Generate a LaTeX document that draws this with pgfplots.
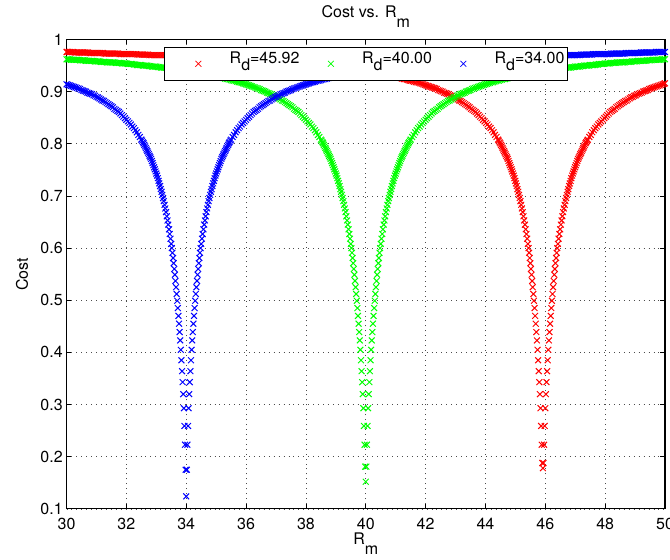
\documentclass[border=0pt]{standalone}
\usepackage{fontspec}
\setmainfont{TeX Gyre Heros}
\usepackage{pgfplots}
\pgfplotsset{compat=1.18}
\pgfplotsset{mk/.style={only marks, mark=x, mark size=3.1pt, mark options={line width=0.75pt}}}
\begin{document}
\fontsize{12pt}{14pt}\selectfont
\begin{tikzpicture}
\useasboundingbox (-49.9pt,-38.25pt) rectangle (452.65pt,381.7pt);
\begin{axis}[
  at={(0pt,0pt)}, anchor=south west,
  scale only axis, width=448.9pt, height=352.1pt,
  xmin=30, xmax=50, ymin=0.1, ymax=1,
  xtick={30,32,34,36,38,40,42,44,46,48,50},
  xticklabels={30,32,34,36,38,40,42,44,46,48,50},
  ytick={0.1,0.2,0.3,0.4,0.5,0.6,0.7,0.8,0.9,1},
  yticklabels={0.1,0.2,0.3,0.4,0.5,0.6,0.7,0.8,0.9,1},
  xtick pos=both, ytick pos=both,
  xticklabel pos=lower, yticklabel pos=left,
  tick align=inside, major tick length=3.5pt,
  tick style={black, line width=0.6pt},
  xticklabel style={yshift=-2.8pt},
  yticklabel style={xshift=1.3pt},
  grid=major,
  major grid style={black!70, line width=0.5pt, dash pattern=on 0.7pt off 3pt},
  axis line style={black, line width=0.8pt},
  clip=false,
  every axis title/.style={at={(axis description cs:0.5,1.0469)}, anchor=base},
  every axis x label/.style={at={(axis description cs:0.5,-0.0767)}, anchor=base},
  every axis y label/.style={at={(axis description cs:-0.0644,0.5)}, rotate=90, anchor=base},
  title={Cost vs. R\raisebox{-0.6em}{m}},
  xlabel={R\raisebox{-0.6em}{m}},
  ylabel={Cost},
  legend columns=3,
  legend image code/.code={\path (-23.25pt,0pt) (23.25pt,0pt); \draw[#1,only marks,mark options={line width=0.55pt}] plot coordinates {(0pt,0pt)};},
  legend style={at={(0.5,0.984)}, anchor=north, draw=black, line width=0.5pt, fill=white,
    inner xsep=2.25pt, inner ysep=0pt, column sep=0pt,
    nodes={inner sep=0pt, text height=12pt, text depth=12.75pt}},
]
% ---------------- R_d = 45.92 (red) ----------------
\addplot[mk, color=red] coordinates {
(30.00,.976)(30.02,.976)(30.12,.976)(30.22,.976)(30.32,.975)(30.42,.975)(30.52,.975)(30.62,.975)(30.72,.975)(30.82,.974)
(30.92,.974)(31.02,.974)(31.12,.974)(31.22,.974)(31.32,.973)(31.42,.973)(31.52,.973)(31.62,.973)(31.72,.973)(31.82,.972)
(31.92,.972)(32.02,.972)(32.12,.972)(32.22,.972)(32.32,.972)(32.42,.971)(32.52,.971)(32.62,.971)(32.72,.971)(32.82,.970)
(32.92,.970)(33.02,.970)(33.12,.970)(33.22,.970)(33.32,.970)(33.42,.969)(33.52,.969)(33.62,.969)(33.72,.969)(33.82,.968)
(33.92,.968)(34.02,.968)(34.12,.968)(34.22,.967)(34.32,.967)(34.42,.967)(34.52,.967)(34.62,.966)(34.72,.966)(34.82,.966)
(34.92,.965)(35.02,.965)(35.12,.965)(35.22,.964)(35.32,.964)(35.42,.964)(35.52,.963)(35.62,.963)(35.72,.963)(35.82,.962)
(35.92,.962)(36.02,.962)(36.12,.961)(36.22,.961)(36.32,.961)(36.42,.960)(36.52,.960)(36.62,.959)(36.72,.959)(36.82,.959)
(36.92,.958)(37.02,.958)(37.12,.957)(37.22,.957)(37.32,.956)(37.42,.956)(37.52,.956)(37.62,.955)(37.72,.955)(37.82,.954)
(37.92,.954)(38.02,.953)(38.12,.953)(38.22,.952)(38.32,.951)(38.42,.951)(38.52,.950)(38.62,.950)(38.72,.949)(38.82,.948)
(38.92,.948)(39.02,.947)(39.12,.946)(39.22,.946)(39.32,.945)(39.42,.944)(39.52,.943)(39.62,.942)(39.72,.942)(39.82,.941)
(39.92,.940)(40.02,.939)(40.12,.938)(40.22,.937)(40.32,.936)(40.42,.935)(40.52,.934)(40.62,.933)(40.72,.932)(40.82,.931)
(40.92,.929)(41.02,.928)(41.12,.927)(41.22,.925)(41.32,.924)(41.42,.922)(41.52,.921)(41.62,.919)(41.72,.918)(41.82,.916)
(41.92,.914)(42.02,.912)(42.12,.910)(42.22,.908)(42.32,.906)(42.42,.903)(42.52,.901)(42.62,.898)(42.72,.896)(42.82,.893)
(42.92,.890)(43.02,.887)(43.12,.883)(43.22,.880)(43.32,.876)(43.42,.872)(43.52,.867)(43.62,.863)(43.72,.858)(43.82,.852)
(43.92,.846)(44.02,.840)(44.12,.833)(44.22,.826)(44.32,.817)
(44.42,.808)(44.47,.803)(44.52,.798)(44.57,.792)(44.62,.786)(44.67,.780)(44.72,.774)(44.77,.767)(44.82,.759)(44.87,.751)
(44.92,.743)(44.97,.734)(45.02,.724)(45.07,.713)(45.12,.702)(45.17,.690)(45.22,.676)(45.27,.661)(45.32,.645)(45.37,.627)
(45.42,.608)(45.44,.600)(45.46,.591)(45.48,.581)(45.50,.571)(45.52,.560)(45.54,.549)(45.56,.537)(45.58,.525)(45.60,.512)
(45.62,.499)(45.64,.485)(45.66,.470)(45.68,.455)(45.70,.439)(45.72,.423)(45.74,.405)(45.76,.385)(45.78,.364)(45.80,.343)
(45.82,.320)(45.84,.293)(45.86,.259)(45.88,.223)(45.90,.188)(45.92,.178)
(45.94,.188)(45.96,.223)(45.98,.259)(46.00,.293)(46.02,.320)(46.04,.343)(46.06,.364)(46.08,.385)(46.10,.405)(46.12,.423)
(46.14,.439)(46.16,.455)(46.18,.470)(46.20,.485)(46.22,.499)(46.24,.512)(46.26,.525)(46.28,.537)(46.30,.549)(46.32,.560)
(46.34,.571)(46.36,.581)(46.38,.591)(46.40,.600)(46.42,.608)
(46.47,.627)(46.52,.645)(46.57,.661)(46.62,.676)(46.67,.690)(46.72,.702)(46.77,.713)(46.82,.724)(46.87,.734)(46.92,.743)
(46.97,.751)(47.02,.759)(47.07,.767)(47.12,.774)(47.17,.780)(47.22,.786)(47.27,.792)(47.32,.798)(47.37,.803)(47.42,.808)
(47.52,.817)(47.62,.826)(47.72,.833)(47.82,.840)(47.92,.846)(48.02,.852)(48.12,.858)(48.22,.863)(48.32,.867)(48.42,.872)
(48.52,.876)(48.62,.880)(48.72,.883)(48.82,.887)(48.92,.890)(49.02,.893)(49.12,.896)(49.22,.898)(49.32,.901)(49.42,.903)
(49.52,.906)(49.62,.908)(49.72,.910)(49.82,.912)(49.92,.914)(50.00,.916)
};
\addlegendentry{R\raisebox{-0.46em}{d}=45.92}
\addplot[mk, color=red, forget plot] coordinates {
(30.07,.976)(30.17,.976)(30.27,.975)(30.37,.975)(30.47,.975)(30.57,.975)(30.67,.975)(30.77,.974)(30.87,.974)(30.97,.974)
(31.07,.974)(31.17,.974)(31.27,.973)(31.37,.973)(31.47,.973)(31.57,.973)(31.67,.973)(31.77,.972)(31.87,.972)(31.97,.972)
(32.07,.972)(32.17,.972)(32.27,.972)(32.37,.971)(32.47,.971)(32.57,.971)(32.67,.971)(32.77,.970)(32.87,.970)(32.97,.970)
(33.07,.970)(33.17,.970)(33.27,.970)(33.37,.969)(33.47,.969)(33.57,.969)(33.67,.969)(33.77,.968)(33.87,.968)(33.97,.968)
(34.07,.968)(34.17,.967)(34.27,.967)(34.37,.967)(34.47,.967)(34.57,.966)(34.67,.966)(34.77,.966)(34.87,.965)(34.97,.965)
(35.07,.965)(35.17,.964)(35.27,.964)(35.37,.964)(35.47,.963)(35.57,.963)(35.67,.963)(35.77,.962)(35.87,.962)(35.97,.962)
(36.07,.961)(36.17,.961)(36.27,.961)(36.37,.960)(36.47,.960)(36.57,.959)(36.67,.959)(36.77,.959)(36.87,.958)(36.97,.958)
(37.07,.957)(37.17,.957)(37.27,.956)(37.37,.956)(37.47,.956)(37.57,.955)(37.67,.955)(37.77,.954)(37.87,.954)(37.97,.953)
(38.07,.953)(38.17,.952)(38.27,.951)(38.37,.951)(38.47,.950)(38.57,.950)(38.67,.949)(38.77,.948)(38.87,.948)(38.97,.947)
(39.07,.946)(39.17,.946)(39.27,.945)(39.37,.944)(39.47,.943)(39.57,.942)(39.67,.942)(39.77,.941)(39.87,.940)(39.97,.939)
(40.07,.938)(40.17,.937)(40.27,.936)(40.37,.935)(40.47,.934)(40.57,.933)(40.67,.932)(40.77,.931)(40.87,.930)(40.97,.929)
(41.07,.927)(41.17,.926)(41.27,.924)(41.37,.923)(41.47,.921)(41.57,.920)(41.67,.918)(41.77,.917)(41.87,.915)(41.97,.913)
(42.07,.911)(42.17,.909)(42.27,.907)(42.37,.905)(42.47,.902)(42.57,.900)(42.67,.897)(42.77,.895)(42.87,.892)(42.97,.889)
(43.07,.885)(43.17,.882)(43.27,.878)(43.37,.874)(43.47,.870)(43.57,.865)(43.67,.861)(43.77,.855)(43.87,.849)(43.97,.843)
(44.07,.837)(44.17,.830)(44.27,.822)(44.37,.813)
(44.445,.806)(44.495,.801)(44.545,.795)(44.595,.789)(44.645,.783)(44.695,.777)(44.745,.771)(44.795,.763)(44.845,.755)(44.895,.747)
(44.945,.739)(44.995,.729)(45.045,.719)(45.095,.708)(45.145,.696)(45.195,.683)(45.245,.669)(45.295,.653)(45.345,.636)(45.395,.618)
(46.445,.618)(46.495,.636)(46.545,.653)(46.595,.669)(46.645,.683)(46.695,.696)(46.745,.708)(46.795,.719)(46.845,.729)(46.895,.739)
(46.945,.747)(46.995,.755)(47.045,.763)(47.095,.771)(47.145,.777)(47.195,.783)(47.245,.789)(47.295,.795)(47.345,.801)(47.395,.806)
(47.47,.813)(47.57,.822)(47.67,.830)(47.77,.837)(47.87,.843)(47.97,.849)(48.07,.855)(48.17,.861)(48.27,.865)(48.37,.870)
(48.47,.874)(48.57,.878)(48.67,.882)(48.77,.885)(48.87,.889)(48.97,.892)(49.07,.895)(49.17,.897)(49.27,.900)(49.37,.902)
(49.47,.905)(49.57,.907)(49.67,.909)(49.77,.911)(49.87,.913)(49.97,.915)
};
% ---------------- R_d = 40.00 (green) ----------------
\addplot[mk, color=green] coordinates {
(30.0,.962)(30.1,.962)(30.2,.961)(30.3,.961)(30.4,.961)(30.5,.960)(30.6,.960)(30.7,.959)(30.8,.959)(30.9,.959)
(31.0,.958)(31.1,.958)(31.2,.957)(31.3,.957)(31.4,.956)(31.5,.956)(31.6,.956)(31.7,.955)(31.8,.955)(31.9,.954)
(32.0,.954)(32.1,.953)(32.2,.953)(32.3,.952)(32.4,.951)(32.5,.951)(32.6,.950)(32.7,.950)(32.8,.949)(32.9,.948)
(33.0,.948)(33.1,.947)(33.2,.946)(33.3,.946)(33.4,.945)(33.5,.944)(33.6,.943)(33.7,.942)(33.8,.942)(33.9,.941)
(34.0,.940)(34.1,.939)(34.2,.938)(34.3,.937)(34.4,.936)(34.5,.935)(34.6,.934)(34.7,.933)(34.8,.932)(34.9,.931)
(35.0,.929)(35.1,.928)(35.2,.927)(35.3,.925)(35.4,.924)(35.5,.922)(35.6,.921)(35.7,.919)(35.8,.918)(35.9,.916)
(36.0,.914)(36.1,.912)(36.2,.910)(36.3,.908)(36.4,.906)(36.5,.903)(36.6,.901)(36.7,.898)(36.8,.896)(36.9,.893)
(37.0,.890)(37.1,.887)(37.2,.883)(37.3,.880)(37.4,.876)(37.5,.872)(37.6,.867)(37.7,.863)(37.8,.858)(37.9,.852)
(38.0,.846)(38.1,.840)(38.2,.833)(38.3,.826)(38.4,.817)
(38.50,.808)(38.55,.803)(38.60,.798)(38.65,.792)(38.70,.786)(38.75,.780)(38.80,.774)(38.85,.767)(38.90,.759)(38.95,.751)
(39.00,.743)(39.05,.734)(39.10,.724)(39.15,.713)(39.20,.702)(39.25,.690)(39.30,.676)(39.35,.661)(39.40,.645)(39.45,.627)
(39.50,.608)(39.52,.600)(39.54,.591)(39.56,.581)(39.58,.571)(39.60,.560)(39.62,.549)(39.64,.537)(39.66,.525)(39.68,.512)
(39.70,.499)(39.72,.485)(39.74,.470)(39.76,.455)(39.78,.439)(39.80,.423)(39.82,.405)(39.84,.385)(39.86,.364)(39.88,.343)
(39.90,.320)(39.92,.293)(39.94,.259)(39.96,.223)(39.98,.181)(40.00,.152)
(40.02,.181)(40.04,.223)(40.06,.259)(40.08,.293)(40.10,.320)(40.12,.343)(40.14,.364)(40.16,.385)(40.18,.405)(40.20,.423)
(40.22,.439)(40.24,.455)(40.26,.470)(40.28,.485)(40.30,.499)(40.32,.512)(40.34,.525)(40.36,.537)(40.38,.549)(40.40,.560)
(40.42,.571)(40.44,.581)(40.46,.591)(40.48,.600)(40.50,.608)
(40.55,.627)(40.60,.645)(40.65,.661)(40.70,.676)(40.75,.690)(40.80,.702)(40.85,.713)(40.90,.724)(40.95,.734)(41.00,.743)
(41.05,.751)(41.10,.759)(41.15,.767)(41.20,.774)(41.25,.780)(41.30,.786)(41.35,.792)(41.40,.798)(41.45,.803)(41.50,.808)
(41.6,.817)(41.7,.826)(41.8,.833)(41.9,.840)(42.0,.846)(42.1,.852)(42.2,.858)(42.3,.863)(42.4,.867)(42.5,.872)
(42.6,.876)(42.7,.880)(42.8,.883)(42.9,.887)(43.0,.890)(43.1,.893)(43.2,.896)(43.3,.898)(43.4,.901)(43.5,.903)
(43.6,.906)(43.7,.908)(43.8,.910)(43.9,.912)(44.0,.914)(44.1,.916)(44.2,.918)(44.3,.919)(44.4,.921)(44.5,.922)
(44.6,.924)(44.7,.925)(44.8,.927)(44.9,.928)(45.0,.929)(45.1,.931)(45.2,.932)(45.3,.933)(45.4,.934)(45.5,.935)
(45.6,.936)(45.7,.937)(45.8,.938)(45.9,.939)(46.0,.940)(46.1,.941)(46.2,.942)(46.3,.942)(46.4,.943)(46.5,.944)
(46.6,.945)(46.7,.946)(46.8,.946)(46.9,.947)(47.0,.948)(47.1,.948)(47.2,.949)(47.3,.950)(47.4,.950)(47.5,.951)
(47.6,.951)(47.7,.952)(47.8,.953)(47.9,.953)(48.0,.954)(48.1,.954)(48.2,.955)(48.3,.955)(48.4,.956)(48.5,.956)
(48.6,.956)(48.7,.957)(48.8,.957)(48.9,.958)(49.0,.958)(49.1,.959)(49.2,.959)(49.3,.959)(49.4,.960)(49.5,.960)
(49.6,.961)(49.7,.961)(49.8,.961)(49.9,.962)(50.0,.962)
};
\addlegendentry{R\raisebox{-0.46em}{d}=40.00}
\addplot[mk, color=green, forget plot] coordinates {
(30.05,.962)(30.15,.961)(30.25,.961)(30.35,.961)(30.45,.960)(30.55,.960)(30.65,.959)(30.75,.959)(30.85,.959)(30.95,.958)
(31.05,.958)(31.15,.957)(31.25,.957)(31.35,.956)(31.45,.956)(31.55,.956)(31.65,.955)(31.75,.955)(31.85,.954)(31.95,.954)
(32.05,.953)(32.15,.953)(32.25,.952)(32.35,.951)(32.45,.951)(32.55,.950)(32.65,.950)(32.75,.949)(32.85,.948)(32.95,.948)
(33.05,.947)(33.15,.946)(33.25,.946)(33.35,.945)(33.45,.944)(33.55,.943)(33.65,.942)(33.75,.942)(33.85,.941)(33.95,.940)
(34.05,.939)(34.15,.938)(34.25,.937)(34.35,.936)(34.45,.935)(34.55,.934)(34.65,.933)(34.75,.932)(34.85,.931)(34.95,.930)
(35.05,.929)(35.15,.927)(35.25,.926)(35.35,.924)(35.45,.923)(35.55,.921)(35.65,.920)(35.75,.918)(35.85,.917)(35.95,.915)
(36.05,.913)(36.15,.911)(36.25,.909)(36.35,.907)(36.45,.905)(36.55,.902)(36.65,.900)(36.75,.897)(36.85,.895)(36.95,.892)
(37.05,.889)(37.15,.885)(37.25,.882)(37.35,.878)(37.45,.874)(37.55,.870)(37.65,.865)(37.75,.861)(37.85,.855)(37.95,.849)
(38.05,.843)(38.15,.837)(38.25,.830)(38.35,.822)(38.45,.813)
(38.525,.806)(38.575,.801)(38.625,.795)(38.675,.789)(38.725,.783)(38.775,.777)(38.825,.771)(38.875,.763)(38.925,.755)(38.975,.747)
(39.025,.739)(39.075,.729)(39.125,.719)(39.175,.708)(39.225,.696)(39.275,.683)(39.325,.669)(39.375,.653)(39.425,.636)(39.475,.618)
(40.525,.618)(40.575,.636)(40.625,.653)(40.675,.669)(40.725,.683)(40.775,.696)(40.825,.708)(40.875,.719)(40.925,.729)(40.975,.739)
(41.025,.747)(41.075,.755)(41.125,.763)(41.175,.771)(41.225,.777)(41.275,.783)(41.325,.789)(41.375,.795)(41.425,.801)(41.475,.806)
(41.55,.813)(41.65,.822)(41.75,.830)(41.85,.837)(41.95,.843)(42.05,.849)(42.15,.855)(42.25,.861)(42.35,.865)(42.45,.870)
(42.55,.874)(42.65,.878)(42.75,.882)(42.85,.885)(42.95,.889)(43.05,.892)(43.15,.895)(43.25,.897)(43.35,.900)(43.45,.902)
(43.55,.905)(43.65,.907)(43.75,.909)(43.85,.911)(43.95,.913)(44.05,.915)(44.15,.917)(44.25,.918)(44.35,.920)(44.45,.921)
(44.55,.923)(44.65,.924)(44.75,.926)(44.85,.927)(44.95,.929)(45.05,.930)(45.15,.931)(45.25,.932)(45.35,.933)(45.45,.934)
(45.55,.935)(45.65,.936)(45.75,.937)(45.85,.938)(45.95,.939)(46.05,.940)(46.15,.941)(46.25,.942)(46.35,.942)(46.45,.943)
(46.55,.944)(46.65,.945)(46.75,.946)(46.85,.946)(46.95,.947)(47.05,.948)(47.15,.948)(47.25,.949)(47.35,.950)(47.45,.950)
(47.55,.951)(47.65,.951)(47.75,.952)(47.85,.953)(47.95,.953)(48.05,.954)(48.15,.954)(48.25,.955)(48.35,.955)(48.45,.956)
(48.55,.956)(48.65,.956)(48.75,.957)(48.85,.957)(48.95,.958)(49.05,.958)(49.15,.959)(49.25,.959)(49.35,.959)(49.45,.960)
(49.55,.960)(49.65,.961)(49.75,.961)(49.85,.961)(49.95,.962)
};
% ---------------- R_d = 34.00 (blue) ----------------
\addplot[mk, color=blue] coordinates {
(30.0,.914)(30.1,.912)(30.2,.910)(30.3,.908)(30.4,.906)(30.5,.903)(30.6,.901)(30.7,.898)(30.8,.896)(30.9,.893)
(31.0,.890)(31.1,.887)(31.2,.883)(31.3,.880)(31.4,.876)(31.5,.872)(31.6,.867)(31.7,.863)(31.8,.858)(31.9,.852)
(32.0,.846)(32.1,.840)(32.2,.833)(32.3,.826)(32.4,.817)
(32.50,.808)(32.55,.803)(32.60,.798)(32.65,.792)(32.70,.786)(32.75,.780)(32.80,.774)(32.85,.767)(32.90,.759)(32.95,.751)
(33.00,.743)(33.05,.734)(33.10,.724)(33.15,.713)(33.20,.702)(33.25,.690)(33.30,.676)(33.35,.661)(33.40,.645)(33.45,.627)
(33.50,.608)(33.52,.600)(33.54,.591)(33.56,.581)(33.58,.571)(33.60,.560)(33.62,.549)(33.64,.537)(33.66,.525)(33.68,.512)
(33.70,.499)(33.72,.485)(33.74,.470)(33.76,.455)(33.78,.439)(33.80,.423)(33.82,.405)(33.84,.385)(33.86,.364)(33.88,.343)
(33.90,.320)(33.92,.293)(33.94,.259)(33.96,.223)(33.98,.175)(34.00,.124)
(34.02,.175)(34.04,.223)(34.06,.259)(34.08,.293)(34.10,.320)(34.12,.343)(34.14,.364)(34.16,.385)(34.18,.405)(34.20,.423)
(34.22,.439)(34.24,.455)(34.26,.470)(34.28,.485)(34.30,.499)(34.32,.512)(34.34,.525)(34.36,.537)(34.38,.549)(34.40,.560)
(34.42,.571)(34.44,.581)(34.46,.591)(34.48,.600)(34.50,.608)
(34.55,.627)(34.60,.645)(34.65,.661)(34.70,.676)(34.75,.690)(34.80,.702)(34.85,.713)(34.90,.724)(34.95,.734)(35.00,.743)
(35.05,.751)(35.10,.759)(35.15,.767)(35.20,.774)(35.25,.780)(35.30,.786)(35.35,.792)(35.40,.798)(35.45,.803)(35.50,.808)
(35.6,.817)(35.7,.826)(35.8,.833)(35.9,.840)(36.0,.846)(36.1,.852)(36.2,.858)(36.3,.863)(36.4,.867)(36.5,.872)
(36.6,.876)(36.7,.880)(36.8,.883)(36.9,.887)(37.0,.890)(37.1,.893)(37.2,.896)(37.3,.898)(37.4,.901)(37.5,.903)
(37.6,.906)(37.7,.908)(37.8,.910)(37.9,.912)(38.0,.914)(38.1,.916)(38.2,.918)(38.3,.919)(38.4,.921)(38.5,.922)
(38.6,.924)(38.7,.925)(38.8,.927)(38.9,.928)(39.0,.929)(39.1,.931)(39.2,.932)(39.3,.933)(39.4,.934)(39.5,.935)
(39.6,.936)(39.7,.937)(39.8,.938)(39.9,.939)(40.0,.940)(40.1,.941)(40.2,.942)(40.3,.942)(40.4,.943)(40.5,.944)
(40.6,.945)(40.7,.946)(40.8,.946)(40.9,.947)(41.0,.948)(41.1,.948)(41.2,.949)(41.3,.950)(41.4,.950)(41.5,.951)
(41.6,.951)(41.7,.952)(41.8,.953)(41.9,.953)(42.0,.954)(42.1,.954)(42.2,.955)(42.3,.955)(42.4,.956)(42.5,.956)
(42.6,.956)(42.7,.957)(42.8,.957)(42.9,.958)(43.0,.958)(43.1,.959)(43.2,.959)(43.3,.959)(43.4,.960)(43.5,.960)
(43.6,.961)(43.7,.961)(43.8,.961)(43.9,.962)(44.0,.962)(44.1,.962)(44.2,.963)(44.3,.963)(44.4,.963)(44.5,.964)
(44.6,.964)(44.7,.964)(44.8,.965)(44.9,.965)(45.0,.965)(45.1,.966)(45.2,.966)(45.3,.966)(45.4,.967)(45.5,.967)
(45.6,.967)(45.7,.967)(45.8,.968)(45.9,.968)(46.0,.968)(46.1,.968)(46.2,.969)(46.3,.969)(46.4,.969)(46.5,.969)
(46.6,.970)(46.7,.970)(46.8,.970)(46.9,.970)(47.0,.970)(47.1,.970)(47.2,.971)(47.3,.971)(47.4,.971)(47.5,.971)
(47.6,.972)(47.7,.972)(47.8,.972)(47.9,.972)(48.0,.972)(48.1,.972)(48.2,.973)(48.3,.973)(48.4,.973)(48.5,.973)
(48.6,.973)(48.7,.974)(48.8,.974)(48.9,.974)(49.0,.974)(49.1,.974)(49.2,.975)(49.3,.975)(49.4,.975)(49.5,.975)
(49.6,.975)(49.7,.976)(49.8,.976)(49.9,.976)(50.0,.976)
};
\addlegendentry{R\raisebox{-0.46em}{d}=34.00}
\addplot[mk, color=blue, forget plot] coordinates {
(30.05,.913)(30.15,.911)(30.25,.909)(30.35,.907)(30.45,.905)(30.55,.902)(30.65,.900)(30.75,.897)(30.85,.895)(30.95,.892)
(31.05,.889)(31.15,.885)(31.25,.882)(31.35,.878)(31.45,.874)(31.55,.870)(31.65,.865)(31.75,.861)(31.85,.855)(31.95,.849)
(32.05,.843)(32.15,.837)(32.25,.830)(32.35,.822)(32.45,.813)
(32.525,.806)(32.575,.801)(32.625,.795)(32.675,.789)(32.725,.783)(32.775,.777)(32.825,.771)(32.875,.763)(32.925,.755)(32.975,.747)
(33.025,.739)(33.075,.729)(33.125,.719)(33.175,.708)(33.225,.696)(33.275,.683)(33.325,.669)(33.375,.653)(33.425,.636)(33.475,.618)
(34.525,.618)(34.575,.636)(34.625,.653)(34.675,.669)(34.725,.683)(34.775,.696)(34.825,.708)(34.875,.719)(34.925,.729)(34.975,.739)
(35.025,.747)(35.075,.755)(35.125,.763)(35.175,.771)(35.225,.777)(35.275,.783)(35.325,.789)(35.375,.795)(35.425,.801)(35.475,.806)
(35.55,.813)(35.65,.822)(35.75,.830)(35.85,.837)(35.95,.843)(36.05,.849)(36.15,.855)(36.25,.861)(36.35,.865)(36.45,.870)
(36.55,.874)(36.65,.878)(36.75,.882)(36.85,.885)(36.95,.889)(37.05,.892)(37.15,.895)(37.25,.897)(37.35,.900)(37.45,.902)
(37.55,.905)(37.65,.907)(37.75,.909)(37.85,.911)(37.95,.913)(38.05,.915)(38.15,.917)(38.25,.918)(38.35,.920)(38.45,.921)
(38.55,.923)(38.65,.924)(38.75,.926)(38.85,.927)(38.95,.929)(39.05,.930)(39.15,.931)(39.25,.932)(39.35,.933)(39.45,.934)
(39.55,.935)(39.65,.936)(39.75,.937)(39.85,.938)(39.95,.939)(40.05,.940)(40.15,.941)(40.25,.942)(40.35,.942)(40.45,.943)
(40.55,.944)(40.65,.945)(40.75,.946)(40.85,.946)(40.95,.947)(41.05,.948)(41.15,.948)(41.25,.949)(41.35,.950)(41.45,.950)
(41.55,.951)(41.65,.951)(41.75,.952)(41.85,.953)(41.95,.953)(42.05,.954)(42.15,.954)(42.25,.955)(42.35,.955)(42.45,.956)
(42.55,.956)(42.65,.956)(42.75,.957)(42.85,.957)(42.95,.958)(43.05,.958)(43.15,.959)(43.25,.959)(43.35,.959)(43.45,.960)
(43.55,.960)(43.65,.961)(43.75,.961)(43.85,.961)(43.95,.962)(44.05,.962)(44.15,.962)(44.25,.963)(44.35,.963)(44.45,.963)
(44.55,.964)(44.65,.964)(44.75,.964)(44.85,.965)(44.95,.965)(45.05,.965)(45.15,.966)(45.25,.966)(45.35,.966)(45.45,.967)
(45.55,.967)(45.65,.967)(45.75,.967)(45.85,.968)(45.95,.968)(46.05,.968)(46.15,.968)(46.25,.969)(46.35,.969)(46.45,.969)
(46.55,.969)(46.65,.970)(46.75,.970)(46.85,.970)(46.95,.970)(47.05,.970)(47.15,.970)(47.25,.971)(47.35,.971)(47.45,.971)
(47.55,.971)(47.65,.972)(47.75,.972)(47.85,.972)(47.95,.972)(48.05,.972)(48.15,.972)(48.25,.973)(48.35,.973)(48.45,.973)
(48.55,.973)(48.65,.973)(48.75,.974)(48.85,.974)(48.95,.974)(49.05,.974)(49.15,.974)(49.25,.975)(49.35,.975)(49.45,.975)
(49.55,.975)(49.65,.975)(49.75,.976)(49.85,.976)(49.95,.976)
};
\end{axis}
\end{tikzpicture}
\end{document}
